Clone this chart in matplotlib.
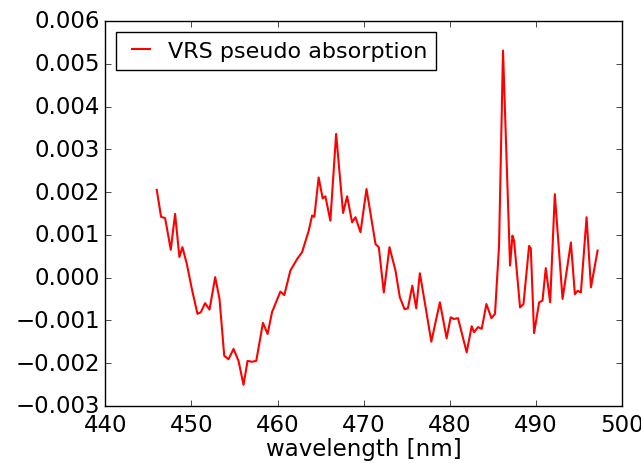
#%%
import numpy as np
import matplotlib
matplotlib.use("Agg")
import matplotlib.pyplot as plt

# %% data (wavelength in nm, absorption)
wavelength = [
    445.97, 446.47, 446.94, 447.60, 448.10, 448.60, 448.95, 449.46, 450.05, 450.70,
    451.09, 451.59, 452.10, 452.76, 453.26, 453.81, 454.31, 454.89, 455.47, 456.05,
    456.52, 457.03, 457.53, 458.31, 458.85, 459.36, 460.33, 460.79, 461.49, 462.27,
    462.85, 463.62, 464.02, 464.28, 464.78, 465.25, 465.56, 466.14, 466.81, 467.62,
    468.09, 468.67, 469.06, 469.64, 470.34, 471.39, 471.77, 472.35, 473.01, 473.71,
    474.21, 474.76, 475.15, 475.66, 476.12, 476.54, 477.21, 477.87, 478.87, 479.65,
    480.12, 480.50, 480.97, 481.98, 482.56, 482.83, 483.30, 483.73, 484.27, 484.85,
    485.27, 485.74, 486.20, 487.02, 487.30, 487.49, 488.18, 488.58, 489.23, 489.43,
    489.81, 490.40, 490.79, 491.17, 491.68, 492.22, 493.12, 494.09, 494.55, 494.87,
    495.25, 495.91, 496.42, 497.19,
]
vrs_1e3 = [
    2.05, 1.42, 1.39, 0.65, 1.49, 0.48, 0.71, 0.32, -0.27, -0.85,
    -0.81, -0.60, -0.75, 0.01, -0.50, -1.83, -1.91, -1.67, -1.95, -2.51,
    -1.95, -1.97, -1.95, -1.06, -1.32, -0.81, -0.33, -0.41, 0.16, 0.43,
    0.59, 1.09, 1.45, 1.42, 2.34, 1.85, 1.90, 1.33, 3.36, 1.51,
    1.90, 1.29, 1.41, 1.06, 2.07, 0.78, 0.71, -0.35, 0.71, 0.16,
    -0.46, -0.74, -0.72, -0.19, -0.72, 0.10, -0.70, -1.50, -0.58, -1.42,
    -0.93, -0.97, -0.95, -1.75, -1.14, -1.28, -1.16, -1.20, -0.62, -0.95,
    -0.85, 0.74, 5.31, 0.28, 0.98, 0.86, -0.70, -0.62, 0.74, 0.68,
    -1.30, -0.58, -0.54, 0.22, -0.58, 1.95, -0.50, 0.82, -0.39, -0.31,
    -0.35, 1.41, -0.23, 0.63,
]
vrs = np.array(vrs_1e3) * 1e-3

#%% plot
plt.style.use("classic")
plt.rcParams["font.family"] = ["DejaVu Sans"]
plt.rcParams["font.size"] = 16.5

fig = plt.figure(figsize=(6.41, 4.64), dpi=100, facecolor="white")
ax = fig.add_axes([0.1644, 0.1233, 0.8056, 0.8293])
ax.plot(wavelength, vrs, color="red", lw=1.5, label="VRS pseudo absorption")

ax.set_xlim(440, 500)
ax.set_ylim(-0.003, 0.006)
ax.set_xticks(np.arange(440, 501, 10))
ax.set_yticks(np.arange(-0.003, 0.0061, 0.001))
ax.set_yticklabels(["\u22120.003", "\u22120.002", "\u22120.001", "0.000",
                    "0.001", "0.002", "0.003", "0.004", "0.005", "0.006"])
ax.tick_params(axis="x", pad=5)
ax.set_xlabel("wavelength [nm]", labelpad=1)
ax.legend(loc="upper left", fontsize=16, handlelength=1.4, handletextpad=0.5,
          borderpad=0.4)

fig.savefig("out.png", dpi=100, facecolor="white")
